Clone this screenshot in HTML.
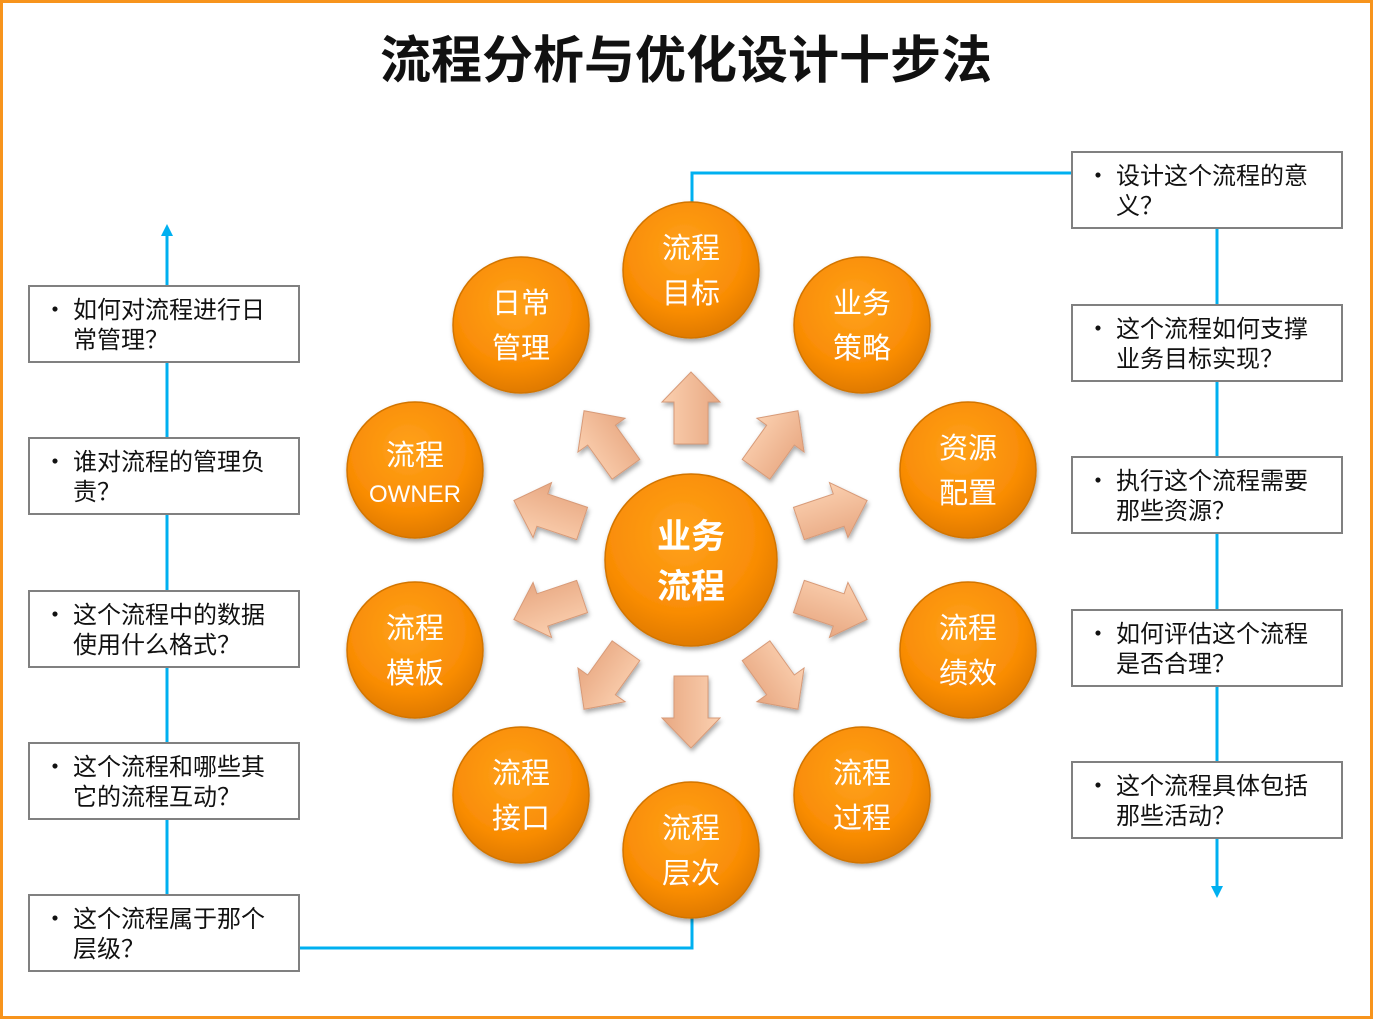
<!DOCTYPE html>
<html><head><meta charset="utf-8"><style>
html,body{margin:0;padding:0;background:#fff}
svg{display:block;font-family:"Liberation Sans","Noto Sans CJK SC",sans-serif}
</style></head><body>
<svg width="1373" height="1019" viewBox="0 0 1373 1019" xmlns="http://www.w3.org/2000/svg">
<defs>
<radialGradient id="og" cx="45%" cy="35%" r="65%">
<stop offset="0" stop-color="#ffa21a"/><stop offset="0.7" stop-color="#f98c05"/><stop offset="1" stop-color="#e07a00"/>
</radialGradient>
<linearGradient id="ag" x1="0" y1="0" x2="0" y2="1">
<stop offset="0" stop-color="#fbd0b0"/><stop offset="1" stop-color="#e8a882"/>
</linearGradient>
<filter id="sh" x="-20%" y="-20%" width="140%" height="140%"><feDropShadow dx="1" dy="3" stdDeviation="2.5" flood-color="#000" flood-opacity="0.35"/></filter>
<marker id="ah" viewBox="0 0 10 10" refX="5" refY="5" markerWidth="4" markerHeight="4" orient="auto"><path d="M0,0 L10,5 L0,10 z" fill="#00b0f0"/></marker>
<g id="arr"><path d="M-36,-17 L6,-17 L6,-29 L36,0 L6,29 L6,17 L-36,17 Z" fill="url(#ag)" stroke="#d79a78" stroke-width="1"/></g>
</defs>
<rect x="1.5" y="1.5" width="1370" height="1016" fill="none" stroke="#f7941d" stroke-width="3"/>
<text x="686" y="78" font-size="51" font-weight="bold" text-anchor="middle" fill="#111">流程分析与优化设计十步法</text>

<g fill="none" stroke="#00b0f0" stroke-width="3">
<line x1="167" y1="895" x2="167" y2="230" marker-end="url(#ah)"/>
<polyline points="299,948 692,948 692,918"/>
<polyline points="692,202 692,173 1072,173"/>
<line x1="1217" y1="228" x2="1217" y2="892" marker-end="url(#ah)"/>
</g>

<g fill="#fff" stroke="#808080" stroke-width="2">
<rect x="29" y="286" width="270" height="76"/><rect x="29" y="438" width="270" height="76"/>
<rect x="29" y="591" width="270" height="76"/><rect x="29" y="743" width="270" height="76"/>
<rect x="29" y="895" width="270" height="76"/>
<rect x="1072" y="152" width="270" height="76"/><rect x="1072" y="305" width="270" height="76"/>
<rect x="1072" y="457" width="270" height="76"/><rect x="1072" y="610" width="270" height="76"/>
<rect x="1072" y="762" width="270" height="76"/>
</g>
<g font-size="24" fill="#111" font-family="'Noto Sans CJK SC',sans-serif">
<text x="43" y="318">•</text><text x="73" y="318">如何对流程进行日</text><text x="73" y="348">常管理？</text>
<text x="43" y="470">•</text><text x="73" y="470">谁对流程的管理负</text><text x="73" y="500">责？</text>
<text x="43" y="623">•</text><text x="73" y="623">这个流程中的数据</text><text x="73" y="653">使用什么格式？</text>
<text x="43" y="775">•</text><text x="73" y="775">这个流程和哪些其</text><text x="73" y="805">它的流程互动？</text>
<text x="43" y="927">•</text><text x="73" y="927">这个流程属于那个</text><text x="73" y="957">层级？</text>
<text x="1086" y="184">•</text><text x="1116" y="184">设计这个流程的意</text><text x="1116" y="214">义？</text>
<text x="1086" y="337">•</text><text x="1116" y="337">这个流程如何支撑</text><text x="1116" y="367">业务目标实现？</text>
<text x="1086" y="489">•</text><text x="1116" y="489">执行这个流程需要</text><text x="1116" y="519">那些资源？</text>
<text x="1086" y="642">•</text><text x="1116" y="642">如何评估这个流程</text><text x="1116" y="672">是否合理？</text>
<text x="1086" y="794">•</text><text x="1116" y="794">这个流程具体包括</text><text x="1116" y="824">那些活动？</text>
</g>

<g filter="url(#sh)">
<use href="#arr" transform="translate(691,408) rotate(-90)"/>
<use href="#arr" transform="translate(691,712) rotate(90)"/>
<use href="#arr" transform="translate(605,440) rotate(-125.6)"/>
<use href="#arr" transform="translate(777,440) rotate(-54.4)"/>
<use href="#arr" transform="translate(548,512) rotate(-161.4)"/>
<use href="#arr" transform="translate(833,512) rotate(-18.6)"/>
<use href="#arr" transform="translate(548,608) rotate(161.4)"/>
<use href="#arr" transform="translate(833,608) rotate(18.6)"/>
<use href="#arr" transform="translate(605,680) rotate(125.6)"/>
<use href="#arr" transform="translate(777,680) rotate(54.4)"/>
</g>

<g filter="url(#sh)" fill="url(#og)" stroke="#d27400" stroke-width="1.5">
<circle cx="691" cy="270" r="68"/><circle cx="521" cy="325" r="68"/><circle cx="862" cy="325" r="68"/>
<circle cx="415" cy="470" r="68"/><circle cx="968" cy="470" r="68"/>
<circle cx="415" cy="650" r="68"/><circle cx="968" cy="650" r="68"/>
<circle cx="521" cy="795" r="68"/><circle cx="862" cy="795" r="68"/><circle cx="691" cy="850" r="68"/>
<circle cx="691" cy="560" r="86"/>
</g>
<g font-size="29" fill="#fff" text-anchor="middle">
<text x="691" y="258">流程</text><text x="691" y="303">目标</text>
<text x="521" y="313">日常</text><text x="521" y="358">管理</text>
<text x="862" y="313">业务</text><text x="862" y="358">策略</text>
<text x="415" y="465">流程</text><text x="415" y="502" font-size="24">OWNER</text>
<text x="968" y="458">资源</text><text x="968" y="503">配置</text>
<text x="415" y="638">流程</text><text x="415" y="683">模板</text>
<text x="968" y="638">流程</text><text x="968" y="683">绩效</text>
<text x="521" y="783">流程</text><text x="521" y="828">接口</text>
<text x="862" y="783">流程</text><text x="862" y="828">过程</text>
<text x="691" y="838">流程</text><text x="691" y="883">层次</text>
<text x="691" y="548" font-size="34" font-weight="bold">业务</text>
<text x="691" y="598" font-size="34" font-weight="bold">流程</text>
</g>
</svg>
</body></html>
